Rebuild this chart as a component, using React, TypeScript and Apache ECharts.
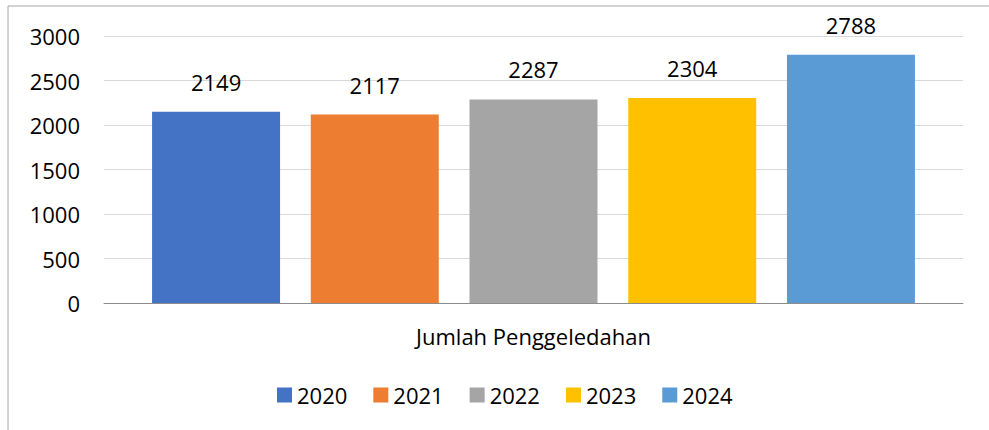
import React, { useEffect, useRef } from "react";
import * as echarts from "echarts";

const categories = ["Jumlah Penggeledahan"];
const years = ["2020", "2021", "2022", "2023", "2024"];
const values = [2149, 2117, 2287, 2304, 2788];
const colors = ["#4472C4", "#ED7D31", "#A5A5A5", "#FFC000", "#5B9BD5"];
const yTicks = { min: 0, max: 3000, interval: 500 };

const FONT = "Open Sans";
const FS = 22;

export default function App() {
  const ref = useRef<HTMLDivElement>(null);
  useEffect(() => {
    if (!ref.current) return;
    const chart = echarts.init(ref.current, undefined, { renderer: "svg" });
    chart.setOption({
      animation: false,
      backgroundColor: "#ffffff",
      textStyle: { fontFamily: FONT },
      graphic: [
        {
          type: "rect",
          shape: { x: 8, y: 6, width: 1100, height: 500 },
          style: { fill: "none", stroke: "#a6a6a6", lineWidth: 1 },
          silent: true,
        },
      ],
      grid: { left: 104, right: 26, top: 36, bottom: 127 },
      legend: {
        data: years,
        top: 379,
        left: 272,
        itemWidth: 15,
        itemHeight: 15,
        itemGap: 26,
        icon: "rect",
        textStyle: { fontSize: FS, color: "#000", fontFamily: FONT },
      },
      xAxis: {
        type: "category",
        data: categories,
        axisLine: { lineStyle: { color: "#8c8c8c", width: 1 } },
        axisTick: { show: false },
        axisLabel: { fontSize: FS, color: "#000", margin: 22, fontFamily: FONT },
      },
      yAxis: {
        type: "value",
        min: yTicks.min,
        max: yTicks.max,
        interval: yTicks.interval,
        axisLine: { show: false },
        axisTick: { show: false },
        splitLine: { lineStyle: { color: "#d9d9d9", width: 1 } },
        axisLabel: {
          fontSize: FS,
          color: "#000",
          margin: 24,
          fontFamily: FONT,
          formatter: (v: number) => String(v),
        },
      },
      series: years.map((y, i) => ({
        name: y,
        type: "bar",
        data: [values[i]],
        barWidth: 128,
        barGap: "24%",
        itemStyle: { color: colors[i] },
        label: {
          show: true,
          position: "top",
          distance: 19,
          fontSize: FS,
          color: "#000",
          fontFamily: FONT,
        },
      })),
    });
    return () => chart.dispose();
  }, []);
  return (
    <div
      ref={ref}
      style={{ position: "absolute", left: 0, top: 0, width: 989, height: 430 }}
    />
  );
}
